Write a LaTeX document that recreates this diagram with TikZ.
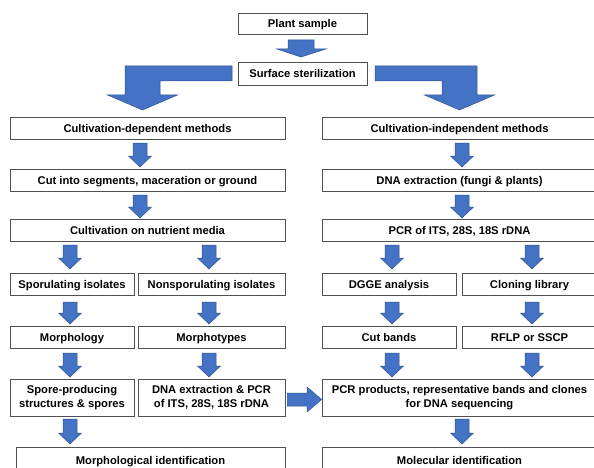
\documentclass[tikz,border=0pt]{standalone}
\usepackage{fontspec}
\setmainfont{Liberation Sans}
\definecolor{arrfill}{RGB}{68,114,196}
\definecolor{arrline}{RGB}{47,82,143}
\definecolor{boxline}{RGB}{80,80,80}
\tikzset{
  box/.style={draw=boxline, line width=0.8pt, fill=white, inner sep=1pt,
    font=\bfseries\fontsize{11.2}{13.5}\selectfont, align=center},
  one/.style={box, text height=8pt, text depth=0pt},
  blk/.style={fill=arrfill, draw=arrline, line width=0.5pt, line join=miter},
}
% small down block arrow: centre x, top y, tip y
\newcommand{\dnarr}[3]{%
  \filldraw[blk] (#1-7,#2) -- (#1+7,#2) -- (#1+7,#3-11) -- (#1+11.5,#3-11)
    -- (#1,#3) -- (#1-11.5,#3-11) -- (#1-7,#3-11) -- cycle;}
\begin{document}
\begin{tikzpicture}[x=1pt,y=-1pt]
\useasboundingbox (0,0) rectangle (594,468);
\clip (0,0) rectangle (594,468);
\fill[white] (0,0) rectangle (594,468);

% top
\node[one, minimum width=129, minimum height=21] (ps) at (302.5,23.5) {Plant sample};
\node[one, minimum width=129, minimum height=23] (ss) at (302.5,73.5) {Surface sterilization};
\filldraw[blk] (288,40) -- (314,40) -- (314,49) -- (326,49) -- (301,57) -- (277,49) -- (288,49) -- cycle;

% bent arrows
\filldraw[blk] (232,66) -- (125,66) -- (125,95) -- (107.5,95) -- (142.5,110) -- (177.5,95)
  -- (160,95) -- (160,81) -- (232,81) -- cycle;
\filldraw[blk] (375,66) -- (477,66) -- (477,95) -- (494.5,95) -- (459.5,110) -- (424.5,95)
  -- (442,95) -- (442,81) -- (375,81) -- cycle;

% left column
\node[one, minimum width=275, minimum height=22] (cd) at (147.5,128) {Cultivation-dependent methods};
\node[one, minimum width=275, minimum height=22] (cut) at (147.5,180) {Cut into segments, maceration or ground};
\node[one, minimum width=275, minimum height=22] (cnm) at (147.5,230) {Cultivation on nutrient media};
\node[one, minimum width=124, minimum height=22] (spi) at (72,284) {Sporulating isolates};
\node[one, minimum width=147, minimum height=22] (nsi) at (211.5,284) {Nonsporulating isolates};
\node[one, minimum width=124, minimum height=22] (mor) at (72,337) {Morphology};
\node[one, minimum width=147, minimum height=22] (mty) at (211.5,337) {Morphotypes};
\node[box, minimum width=124, minimum height=37] (spp) at (72,397.5) {Spore-producing\\structures \& spores};
\node[box, minimum width=147, minimum height=37] (dnap) at (211.5,397.5) {DNA extraction \& PCR\\of ITS, 28S, 18S rDNA};
\node[one, minimum width=269, minimum height=26] (mid) at (150.5,460) {Morphological identification};

% right column
\node[one, minimum width=275, minimum height=22] (ci) at (459.5,128) {Cultivation-independent methods};
\node[one, minimum width=275, minimum height=22] (dex) at (459.5,180) {DNA extraction (fungi \& plants)};
\node[one, minimum width=275, minimum height=22] (pcr) at (459.5,230) {PCR of ITS, 28S, 18S rDNA};
\node[one, minimum width=134, minimum height=22] (dg) at (389,284) {DGGE analysis};
\node[one, minimum width=135, minimum height=22] (cl) at (529.5,284) {Cloning library};
\node[one, minimum width=134, minimum height=22] (cb) at (389,337) {Cut bands};
\node[one, minimum width=135, minimum height=22] (rf) at (529.5,337) {RFLP or SSCP};
\node[box, minimum width=275, minimum height=37] (prod) at (459.5,397.5) {PCR products, representative bands and clones\\for DNA sequencing};
\node[one, minimum width=275, minimum height=26] (molid) at (459.5,460) {Molecular identification};

% small arrows, left
\dnarr{140}{143}{167}
\dnarr{140}{195}{218}
\dnarr{70}{245}{269}
\dnarr{209}{245}{269}
\dnarr{70}{302}{324}
\dnarr{209}{302}{324}
\dnarr{70}{353}{377}
\dnarr{209}{353}{377}
\dnarr{70}{419}{444}
% small arrows, right
\dnarr{462}{143}{167}
\dnarr{462}{195}{218}
\dnarr{392}{245}{269}
\dnarr{532}{245}{269}
\dnarr{392}{302}{324}
\dnarr{532}{302}{324}
\dnarr{392}{353}{377}
\dnarr{532}{353}{377}
\dnarr{462}{419}{444}

% horizontal arrow from dnap to prod
\filldraw[blk] (dnap.east |- 0,393) ++(2,0) coordinate (ha) -- (307,393) -- (307,387) -- (prod.west |- 0,399.5)
  -- (307,412) -- (307,406) -- (ha |- 0,406) -- cycle;
\end{tikzpicture}
\end{document}
